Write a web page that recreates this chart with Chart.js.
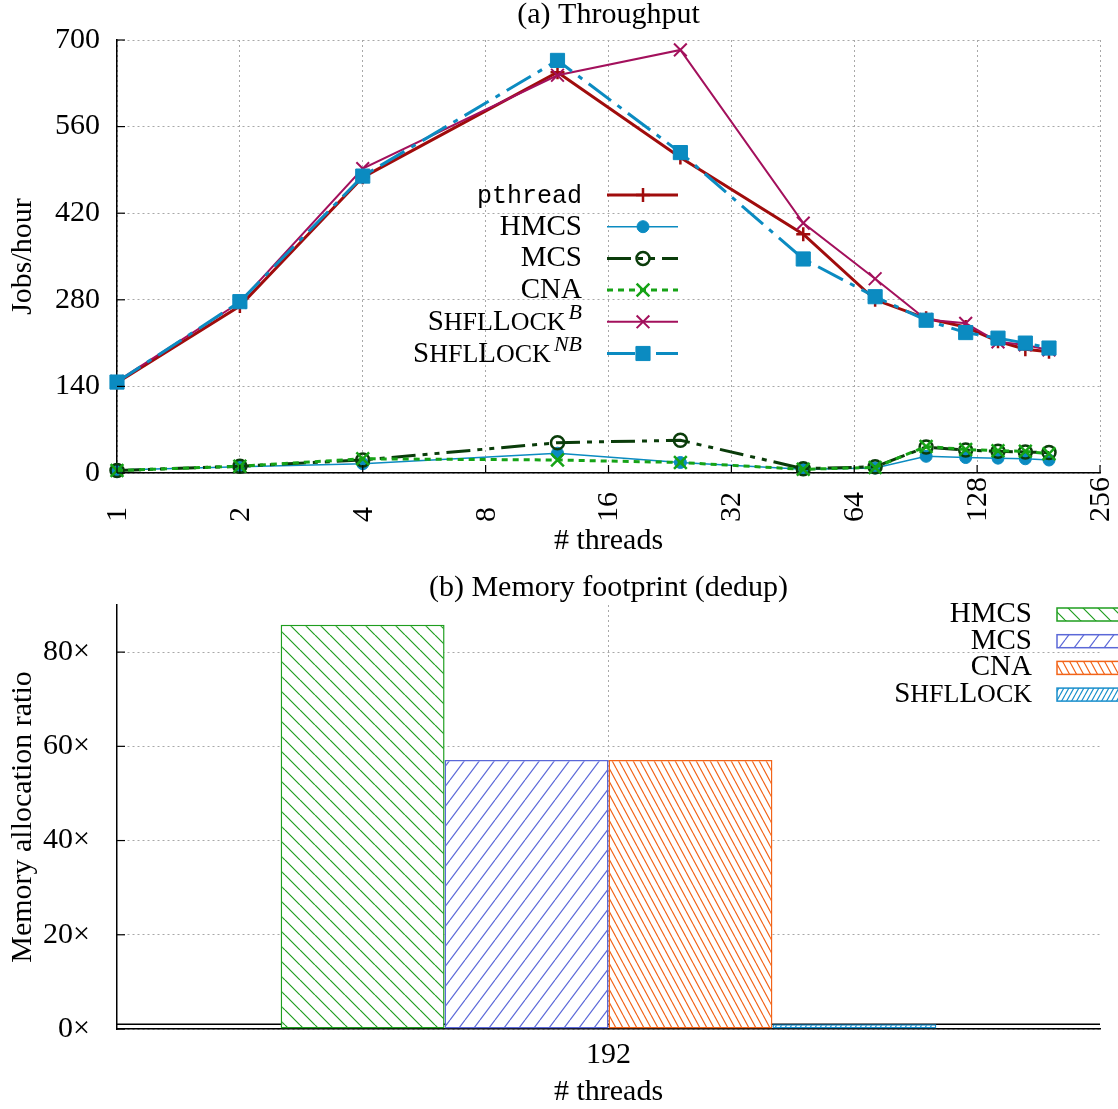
<!DOCTYPE html>
<html>
<head>
<meta charset="utf-8">
<script src="https://cdn.jsdelivr.net/npm/chart.js@4.4.1/dist/chart.umd.min.js"></script>
<style>
  body { margin: 0; background: #fff; }
  #wrap { position: relative; width: 1118px; height: 1109px; }
  #wrap canvas { position: absolute; left: 0; }
  #throughputChart { top: 0; }
  #memoryChart { top: 560px; }
</style>
</head>
<body>
<div id="wrap">
  <canvas id="throughputChart" width="1118" height="560" style="width:1118px;height:560px"></canvas>
  <canvas id="memoryChart" width="1118" height="549" style="width:1118px;height:549px"></canvas>
</div>
<script>
// ---- (a) Throughput data ----
const threads = [1, 2, 4, 12, 24, 48, 72, 96, 120, 144, 168, 192];
const xTickValues = [1, 2, 4, 8, 16, 32, 64, 128, 256];
const yTickValues = [0, 140, 280, 420, 560, 700];

const pthreadJobs = [146, 270, 478, 648, 510, 386, 280, 250, 236, 213, 200, 196];
const hmcsJobs    = [5, 10, 15, 32, 17, 6, 8, 27, 25, 24, 23, 21];
const mcsJobs     = [4, 11, 21, 49, 53, 7, 10, 42, 37, 35, 34, 33];
const cnaJobs     = [4, 11, 23, 21, 17, 6, 9, 43, 38, 36, 35, 31];
const shflBJobs   = [148, 276, 492, 643, 684, 404, 314, 248, 242, 212, 207, 199];
const shflNBJobs  = [147, 277, 480, 667, 518, 346, 285, 247, 227, 218, 210, 202];

// ---- (b) Memory footprint data ----
const memCategories = ['192'];
const memLocks = ['HMCS', 'MCS', 'CNA', 'ShflLock'];
const memRatio = [85.8, 57.1, 57.1, 1.0];
const memTickValues = [0, 20, 40, 60, 80];
const baselineRatio = 1;

const SERIF = "'Liberation Serif', 'Times New Roman', serif";
const MONO = "'Liberation Mono', monospace";
const GRID = '#a8a8a8';

function pts(arr) {
  return threads.map((t, i) => ({ x: t, y: arr[i] }));
}

// draws a label right-aligned; ShflLock gets small caps + italic superscript
function drawLabel(ctx, label, xRight, yBase, big, monoSize) {
  const [name, sup] = label.split('^');
  let parts;
  if (name === 'ShflLock') {
    const small = Math.round(big * 0.9);
    parts = [
      { t: 'S', font: `${big}px ${SERIF}`, dy: 0 },
      { t: 'HFL', font: `${small}px ${SERIF}`, dy: 0 },
      { t: 'L', font: `${big}px ${SERIF}`, dy: 0 },
      { t: 'OCK', font: `${small}px ${SERIF}`, dy: 0 }
    ];
    if (sup) parts.push({ t: sup, font: `italic ${Math.round(big * 0.75)}px ${SERIF}`, dy: -big * 0.36, gap: 3 });
  } else {
    parts = [{ t: label, font: monoSize ? `${monoSize}px ${MONO}` : `${big}px ${SERIF}`, dy: 0 }];
  }
  let total = 0;
  parts.forEach(p => { ctx.font = p.font; p.w = ctx.measureText(p.t).width + (p.gap || 0); total += p.w; });
  let x = xRight - total;
  ctx.textAlign = 'left';
  ctx.textBaseline = 'alphabetic';
  ctx.fillStyle = '#000';
  parts.forEach(p => { ctx.font = p.font; ctx.fillText(p.t, x + (p.gap || 0), yBase + p.dy); x += p.w; });
}

function drawMarker(ctx, style, r, x, y) {
  ctx.beginPath();
  if (style === 'circle') {
    ctx.arc(x, y, r, 0, Math.PI * 2);
    ctx.fill(); ctx.stroke();
  } else if (style === 'rect') {
    const s = r * Math.SQRT1_2;
    ctx.rect(x - s, y - s, 2 * s, 2 * s);
    ctx.fill(); ctx.stroke();
  } else if (style === 'cross') {
    ctx.moveTo(x, y - r); ctx.lineTo(x, y + r);
    ctx.moveTo(x - r, y); ctx.lineTo(x + r, y);
    ctx.stroke();
  } else if (style === 'crossRot') {
    const d = r * Math.SQRT1_2;
    ctx.moveTo(x - d, y - d); ctx.lineTo(x + d, y + d);
    ctx.moveTo(x - d, y + d); ctx.lineTo(x + d, y - d);
    ctx.stroke();
  }
}

// gnuplot style inward tick marks
const innerTicks = {
  id: 'innerTicks',
  afterDraw(chart) {
    const ctx = chart.ctx, area = chart.chartArea;
    ctx.save();
    ctx.strokeStyle = '#000';
    ctx.lineWidth = 1.2;
    Object.values(chart.scales).forEach(scale => {
      if (scale.type === 'category') return;
      scale.ticks.forEach(t => {
        const p = scale.getPixelForValue(t.value);
        ctx.beginPath();
        if (scale.isHorizontal()) { ctx.moveTo(p, area.bottom); ctx.lineTo(p, area.bottom - 8); }
        else { ctx.moveTo(area.left, p); ctx.lineTo(area.left + 8, p); }
        ctx.stroke();
      });
    });
    ctx.restore();
  }
};

// rotated x labels anchored at their bottom, plus the legend
const throughputExtras = {
  id: 'throughputExtras',
  afterDraw(chart) {
    const ctx = chart.ctx;
    const xs = chart.scales.x;
    ctx.save();
    ctx.fillStyle = '#000';
    ctx.font = `30px ${SERIF}`;
    ctx.textAlign = 'left';
    ctx.textBaseline = 'middle';
    xTickValues.forEach(v => {
      const px = xs.getPixelForValue(v);
      ctx.save();
      ctx.translate(px, 522);
      ctx.rotate(-Math.PI / 2);
      ctx.fillText(String(v), 0, 1);
      ctx.restore();
    });

    chart.data.datasets.forEach((ds, i) => {
      const y = 195 + i * 31.7;
      drawLabel(ctx, ds.label, 582, y + 8, 29, ds.label === 'pthread' ? 25 : 0);
      ctx.strokeStyle = ds.borderColor;
      ctx.lineWidth = ds.borderWidth;
      ctx.setLineDash(ds.borderDash || []);
      ctx.beginPath();
      ctx.moveTo(607, y);
      ctx.lineTo(678, y);
      ctx.stroke();
      ctx.setLineDash([]);
      ctx.fillStyle = ds.pointBackgroundColor;
      ctx.strokeStyle = ds.pointBorderColor;
      ctx.lineWidth = ds.pointBorderWidth;
      drawMarker(ctx, ds.pointStyle, ds.pointRadius, 643, y);
    });
    ctx.restore();
  }
};

function lineSet(label, data, color, opts) {
  return Object.assign({
    label: label,
    data: pts(data),
    borderColor: color,
    backgroundColor: color,
    pointBorderColor: color,
    pointBackgroundColor: color,
    borderWidth: 3,
    pointBorderWidth: 2.5,
    pointRadius: 6,
    pointHoverRadius: 6,
    borderDash: [],
    tension: 0,
    clip: false
  }, opts);
}

const throughputSets = [
  lineSet('pthread', pthreadJobs, '#a00c0c', { pointStyle: 'cross', pointRadius: 7, borderWidth: 3, pointBorderWidth: 2.5 }),
  lineSet('HMCS', hmcsJobs, '#0b8bc1', { pointStyle: 'circle', pointRadius: 6, borderWidth: 1.5, pointBorderWidth: 1 }),
  lineSet('MCS', mcsJobs, '#0a3c0a', { pointStyle: 'circle', pointRadius: 6.5, pointBackgroundColor: 'rgba(0,0,0,0)', borderDash: [24, 7, 5, 7, 5, 7], pointBorderWidth: 2.5 }),
  lineSet('CNA', cnaJobs, '#16a316', { pointStyle: 'crossRot', pointRadius: 9, borderDash: [6, 5], pointBorderWidth: 2.5 }),
  lineSet('ShflLock^B', shflBJobs, '#a3105c', { pointStyle: 'crossRot', pointRadius: 9, borderWidth: 2, pointBorderWidth: 2 }),
  lineSet('ShflLock^NB', shflNBJobs, '#0b8bc1', { pointStyle: 'rect', pointRadius: 10, borderDash: [28, 8, 5, 8], pointBorderWidth: 1 })
];
throughputSets.forEach((ds, i) => { ds.order = throughputSets.length - i; });

new Chart(document.getElementById('throughputChart'), {
  type: 'line',
  data: { datasets: throughputSets },
  options: {
    responsive: false,
    animation: false,
    layout: { padding: { left: 0, right: 18, top: 0, bottom: 0 } },
    plugins: {
      legend: { display: false },
      tooltip: { enabled: false },
      title: {
        display: true,
        text: '(a) Throughput',
        color: '#000',
        fullSize: false,
        font: { family: SERIF, size: 30, weight: 'normal', lineHeight: 1 },
        padding: { top: 0, bottom: 10 }
      }
    },
    scales: {
      x: {
        type: 'logarithmic',
        min: 1,
        max: 256,
        afterBuildTicks: scale => { scale.ticks = xTickValues.map(v => ({ value: v })); },
        afterFit: scale => { scale.height = 87; },
        ticks: { display: false },
        grid: { color: GRID, lineWidth: 1, drawTicks: false },
        border: { display: true, color: '#000', width: 1.5, dash: [2, 3] },
        title: {
          display: true,
          text: '# threads',
          color: '#000',
          font: { family: SERIF, size: 30, lineHeight: 1 },
          padding: { top: 4, bottom: 4 }
        }
      },
      y: {
        min: 0,
        max: 700,
        afterBuildTicks: scale => { scale.ticks = yTickValues.map(v => ({ value: v })); },
        afterFit: scale => { scale.width = 117; },
        ticks: { color: '#000', font: { family: SERIF, size: 30 }, padding: 17 },
        grid: { color: GRID, lineWidth: 1, drawTicks: false },
        border: { display: true, color: '#000', width: 1.5, dash: [2, 3] },
        title: {
          display: true,
          text: 'Jobs/hour',
          color: '#000',
          font: { family: SERIF, size: 30, lineHeight: 1 },
          padding: { top: 8, bottom: 8 }
        }
      }
    }
  },
  plugins: [innerTicks, throughputExtras]
});

// ---- (b) Memory footprint ----
function makeHatch(color, w, h, dir) {
  const c = document.createElement('canvas');
  c.width = w; c.height = h;
  const g = c.getContext('2d');
  g.fillStyle = '#fff';
  g.fillRect(0, 0, w, h);
  g.strokeStyle = color;
  g.lineWidth = 1.2;
  g.beginPath();
  for (let k = -1; k <= 1; k++) {
    if (dir === '\\') { g.moveTo(k * w, 0); g.lineTo(k * w + w, h); }
    else { g.moveTo(k * w, h); g.lineTo(k * w + w, 0); }
  }
  g.stroke();
  return g.createPattern(c, 'repeat');
}

const memColors = ['#1f9e1f', '#5b68d8', '#f26419', '#1a8fcc'];
const memHatches = [
  makeHatch(memColors[0], 15, 15, '\\'),
  makeHatch(memColors[1], 15, 20, '/'),
  makeHatch(memColors[2], 7, 13, '\\'),
  makeHatch(memColors[3], 5, 9, '/')
];

const baselinePlugin = {
  id: 'baseline',
  beforeDatasetsDraw(chart) {
    const ctx = chart.ctx, area = chart.chartArea;
    const y = chart.scales.y.getPixelForValue(baselineRatio);
    ctx.save();
    ctx.strokeStyle = '#000';
    ctx.lineWidth = 1.5;
    ctx.beginPath();
    ctx.moveTo(area.left, y);
    ctx.lineTo(area.right, y);
    ctx.stroke();
    ctx.restore();
  }
};

const memLegend = {
  id: 'memLegend',
  afterDraw(chart) {
    const ctx = chart.ctx;
    ctx.save();
    chart.data.datasets.forEach((ds, i) => {
      const base = 62 + i * 26.7;
      drawLabel(ctx, ds.label, 1032, base, 29, 0);
      ctx.fillStyle = ds.backgroundColor;
      ctx.fillRect(1057, base - 14, 70, 13);
      ctx.strokeStyle = ds.borderColor;
      ctx.lineWidth = 1.5;
      ctx.strokeRect(1057, base - 14, 70, 13);
    });
    ctx.restore();
  }
};

new Chart(document.getElementById('memoryChart'), {
  type: 'bar',
  data: {
    labels: memCategories,
    datasets: memLocks.map((name, i) => ({
      label: name,
      data: [memRatio[i]],
      backgroundColor: memHatches[i],
      borderColor: memColors[i],
      borderWidth: 1.5,
      borderSkipped: false,
      categoryPercentage: 0.667,
      barPercentage: 1.0
    }))
  },
  options: {
    responsive: false,
    animation: false,
    layout: { padding: { left: 0, right: 18, top: 0, bottom: 0 } },
    plugins: {
      legend: { display: false },
      tooltip: { enabled: false },
      title: {
        display: true,
        text: '(b) Memory footprint (dedup)',
        color: '#000',
        fullSize: false,
        font: { family: SERIF, size: 30, weight: 'normal', lineHeight: 1 },
        padding: { top: 0, bottom: 2 }
      }
    },
    scales: {
      x: {
        afterFit: scale => { scale.height = 80; },
        ticks: { color: '#000', font: { family: SERIF, size: 30 }, padding: 8 },
        grid: { offset: false, color: GRID, lineWidth: 1, drawTicks: false },
        border: { display: true, color: '#000', width: 1.5, dash: [2, 3] },
        title: {
          display: true,
          text: '# threads',
          color: '#000',
          font: { family: SERIF, size: 30, lineHeight: 1 },
          padding: { top: 2, bottom: 2 }
        }
      },
      y: {
        min: 0,
        max: 90,
        afterBuildTicks: scale => { scale.ticks = memTickValues.map(v => ({ value: v })); },
        afterFit: scale => { scale.width = 117; },
        ticks: { color: '#000', font: { family: SERIF, size: 30 }, padding: 27, callback: v => v + '×' },
        grid: { color: GRID, lineWidth: 1, drawTicks: false },
        border: { display: true, color: '#000', width: 1.5, dash: [2, 3] },
        title: {
          display: true,
          text: 'Memory allocation ratio',
          color: '#000',
          font: { family: SERIF, size: 30, lineHeight: 1 },
          padding: { top: 8, bottom: 8 }
        }
      }
    }
  },
  plugins: [baselinePlugin, innerTicks, memLegend]
});
</script>
</body>
</html>
